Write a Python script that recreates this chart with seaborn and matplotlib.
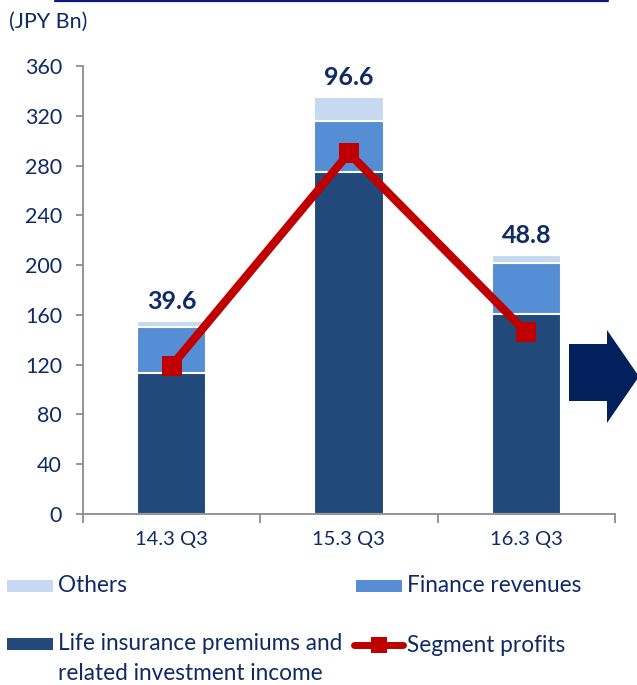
import numpy as np
import pandas as pd
import matplotlib
matplotlib.use("Agg")
import matplotlib.pyplot as plt
import seaborn as sns
from matplotlib.patches import Polygon, Rectangle
from matplotlib.lines import Line2D

# data (JPY Bn)
periods = ["14.3 Q3", "15.3 Q3", "16.3 Q3"]
life_insurance = [113, 275, 161]
finance_revenues = [37.5, 40.5, 41]
others = [4.5, 19.5, 6]
segment_profits = [119, 290, 146]
profit_labels = ["39.6", "96.6", "48.8"]

c_life = "#214A7B"
c_fin = "#558ED5"
c_oth = "#C6D9F1"
c_red = "#C00000"
c_text = "#0F2A66"

sns.set_theme(style="white")
plt.rcParams["font.family"] = ["Lato", "DejaVu Sans"]

df = pd.DataFrame({
    "period": periods,
    "life": life_insurance,
    "finance": finance_revenues,
    "others": others,
    "profit": segment_profits,
})
df["lf"] = df["life"] + df["finance"]
df["total"] = df["lf"] + df["others"]

fig = plt.figure(figsize=(6.37, 6.85), dpi=100)
ax = fig.add_axes([0.13, 0.2496, 0.8355, 0.654])

# stacked bars by overlapping cumulative totals
for col, color in [("total", c_oth), ("lf", c_fin), ("life", c_life)]:
    sns.barplot(data=df, x="period", y=col, color=color, width=0.39,
                edgecolor="white", linewidth=1.5, saturation=1, ax=ax)

sns.lineplot(x=np.arange(len(periods)), y=df["profit"], color=c_red,
             linewidth=6, marker="s", markersize=15, markeredgewidth=0,
             ax=ax, zorder=5)

for i, lab in enumerate(profit_labels):
    ax.annotate(lab, (i, df["total"][i]), xytext=(0, 6), textcoords="offset points",
                ha="center", va="bottom", fontsize=18, fontweight="bold", color=c_text)

ax.set_xlim(-0.5, 2.5)
ax.set_ylim(0, 360)
ax.set_yticks(np.arange(0, 361, 40))
ax.set_xlabel("")
ax.set_ylabel("")
for s in ["top", "right"]:
    ax.spines[s].set_visible(False)
for s in ["left", "bottom"]:
    ax.spines[s].set_color("#8C8C8C")
    ax.spines[s].set_linewidth(1.3)
ax.set_xticks([-0.5, 0.5, 1.5, 2.5], minor=True)
ax.tick_params(axis="x", which="major", length=0, pad=12, labelsize=14.5, labelcolor=c_text)
ax.tick_params(axis="x", which="minor", length=6.5, width=1.3, color="#8C8C8C", direction="out", bottom=True)
ax.tick_params(axis="y", length=5, width=1.3, color="#8C8C8C", direction="out", left=True,
               pad=10, labelsize=15.5, labelcolor=c_text)

W, H = 637, 685


def fx(x):
    return x / W


def fy(y):
    return 1 - y / H


fig.text(fx(9), fy(22), "(JPY Bn)", fontsize=15.5, color=c_text, va="center", ha="left")

# top rule
fig.add_artist(Line2D([fx(55), fx(608)], [fy(1), fy(1)], color="#0A1A80", lw=1.6))

# arrow
arrow_pts = [(569, 344), (607, 344), (607, 330), (639, 376.5), (607, 423), (607, 401), (569, 401)]
fig.add_artist(Polygon([(fx(x), fy(y)) for x, y in arrow_pts], closed=True,
                       facecolor="#02205C", edgecolor="none"))

# legend, drawn by hand to follow the reference layout
LF = 16.3


def patch(x0, yc, color):
    fig.add_artist(Rectangle((fx(x0), fy(yc + 6)), 46 / W, 12 / H, facecolor=color, edgecolor="none"))


patch(7, 586, c_oth)
fig.text(fx(58), fy(586), "Others", fontsize=LF, color=c_text, va="center")
patch(356, 586, c_fin)
fig.text(fx(407), fy(586), "Finance revenues", fontsize=LF, color=c_text, va="center")
patch(7, 644, c_life)
fig.text(fx(58), fy(644), "Life insurance premiums and", fontsize=LF, color=c_text, va="center")
fig.text(fx(58), fy(673), "related investment income", fontsize=LF, color=c_text, va="center")
fig.add_artist(Line2D([fx(354), fx(403)], [fy(645), fy(645)], color=c_red, lw=5,
                      solid_capstyle="round"))
fig.add_artist(Line2D([fx(379)], [fy(645)], color=c_red, marker="s", markersize=11,
                      markeredgewidth=0, linestyle="none"))
fig.text(fx(407), fy(645), "Segment profits", fontsize=LF, color=c_text, va="center")

fig.savefig("out.png", dpi=100)
